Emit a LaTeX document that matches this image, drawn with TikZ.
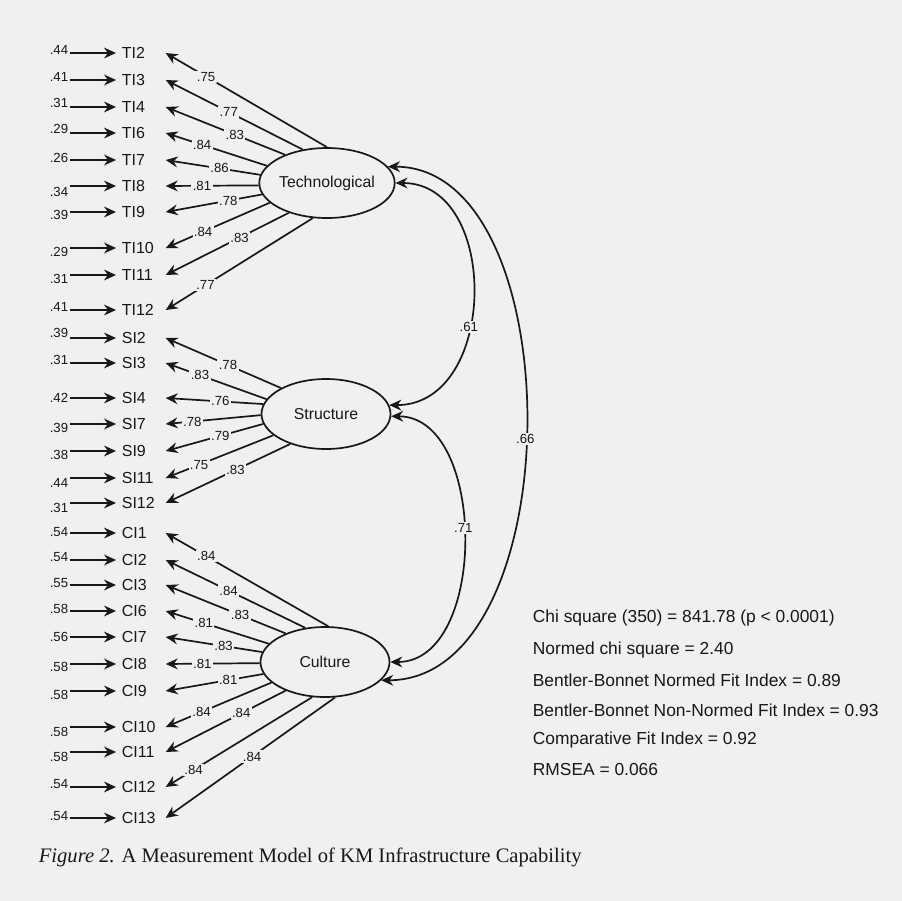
\documentclass[tikz,border=0pt]{standalone}
\usepackage{fontspec}
\setmainfont{Liberation Sans}
\newfontfamily\capfont{Liberation Serif}
\usetikzlibrary{arrows.meta,shapes.geometric}
\definecolor{paper}{RGB}{240,240,240}
\definecolor{ink}{RGB}{24,24,24}

\begin{document}
\begin{tikzpicture}[x=0.5pt,y=-0.5pt,color=ink,line width=0.85pt,
    >={Stealth[length=6pt,width=5.4pt,inset=2pt]},
    item/.style={anchor=west,inner xsep=2.5pt,inner ysep=1pt,text width=19pt,align=left,font=\fontsize{8}{9.5}\selectfont},
    factor/.style={ellipse,draw,inner sep=0pt,minimum width=64.5pt,minimum height=35pt,font=\fontsize{7.9}{9.5}\selectfont},
    coef/.style={fill=paper,inner sep=0.7pt,font=\fontsize{6.6}{7}\selectfont},
    errlbl/.style={inner sep=0.5pt,font=\fontsize{6.6}{7}\selectfont},
    fitline/.style={anchor=west,inner sep=0pt,font=\fontsize{8.7}{10}\selectfont}]

    \fill[paper] (0,0) rectangle (902,901);
    \useasboundingbox (0,0) rectangle (902,901);

    \node[factor] (tech) at (327,183) {Technological};
    \node[factor] (struc) at (326,414) {Structure};
    \node[factor] (cult) at (325,662) {Culture};

    \foreach \name/\y/\e/\s/\a/\c/\p in {
        TI2/53/.44/1.5/90/.75/.75, TI3/80/.41/1.5/126/.77/.54,
        TI4/107/.31/2/146/.83/.42, TI6/133/.29/2/164/.84/.64,
        TI7/160/.26/1/173/.86/.43, TI8/186/.34/-3/182/.81/.61,
        TI9/212/.39/-1.5/190/.78/.35, TI10/248/.29/-2/199/.84/.64,
        TI11/275/.31/-2/218/.83/.40, TI12/310/.41/1.5/248/.77/.73}
    {
        \node[item] (\name) at (116,\y) {\name};
        \coordinate[label={[errlbl,yshift=\s pt]left:\e}] (e\name) at (70,\y);
        \draw[->] (e\name) -- (\name.west);
        \draw[->] (tech.\a) -- node[coef,pos=\p] {\c} (\name.east);
    }

    \foreach \name/\y/\e/\s/\a/\c/\p in {
        SI2/338/.39/2.5/150/.78/.46, SI3/363/.31/1.5/166/.83/.66,
        SI4/398/.42/0/171/.76/.44, SI7/424/.39/-2/181/.78/.72,
        SI9/451/.38/-2/189/.79/.44, SI11/478/.44/-2.5/202/.75/.69,
        SI12/503/.31/-2.5/220/.83/.44}
    {
        \node[item] (\name) at (116,\y) {\name};
        \coordinate[label={[errlbl,yshift=\s pt]left:\e}] (e\name) at (70,\y);
        \draw[->] (e\name) -- (\name.west);
        \draw[->] (struc.\a) -- node[coef,pos=\p] {\c} (\name.east);
    }

    \foreach \name/\y/\e/\s/\a/\c/\p in {
        CI1/533/.54/0.5/85/.84/.75, CI2/560/.54/1.5/120/.84/.55,
        CI3/585/.55/1/144/.83/.38, CI6/611/.58/1/162/.81/.63,
        CI7/637/.56/0/171/.83/.40, CI8/664/.58/-1.5/181/.81/.61,
        CI9/691/.58/-2/191/.81/.36, CI10/727/.58/-2.5/201/.84/.66,
        CI11/752/.58/-2.5/216/.84/.37, CI12/787/.54/1.5/250/.84/.81,
        CI13/818/.54/1/286/.84/.49}
    {
        \node[item] (\name) at (116,\y) {\name};
        \coordinate[label={[errlbl,yshift=\s pt]left:\e}] (e\name) at (70,\y);
        \draw[->] (e\name) -- (\name.west);
        \draw[->] (cult.\a) -- node[coef,pos=\p] {\c} (\name.east);
    }

    \draw[<->] (tech.east) .. controls +(105,0) and +(109,0) .. node[coef,pos=0.6] {.61} (struc.8);
    \draw[<->] (struc.-2) .. controls +(96,0) and +(98,0) .. node[coef,pos=0.47] {.71} (cult.east);
    \draw[<->] (tech.15) .. controls +(185,0) and +(191,0) .. node[coef,pos=0.52] {.66} (cult.-18);

    \node[fitline] (chi) at (532,618) {Chi square (350) = 841.78 (p < 0.0001)};
    \node[fitline] (nchi) at (532,650) {Normed chi square = 2.40};
    \node[fitline] (nfi) at (532,680) {Bentler-Bonnet Normed Fit Index = 0.89};
    \node[fitline] (nnfi) at (532,710) {Bentler-Bonnet Non-Normed Fit Index = 0.93};
    \node[fitline] (cfi) at (532,740) {Comparative Fit Index = 0.92};
    \node[fitline] (rmsea) at (532,770) {RMSEA = 0.066};

    \node[anchor=west,inner sep=0pt,font=\capfont\fontsize{10.3}{12}\selectfont] (caption) at (38,857)
        {\textit{Figure 2.} A Measurement Model of KM Infrastructure Capability};

\end{tikzpicture}
\end{document}
